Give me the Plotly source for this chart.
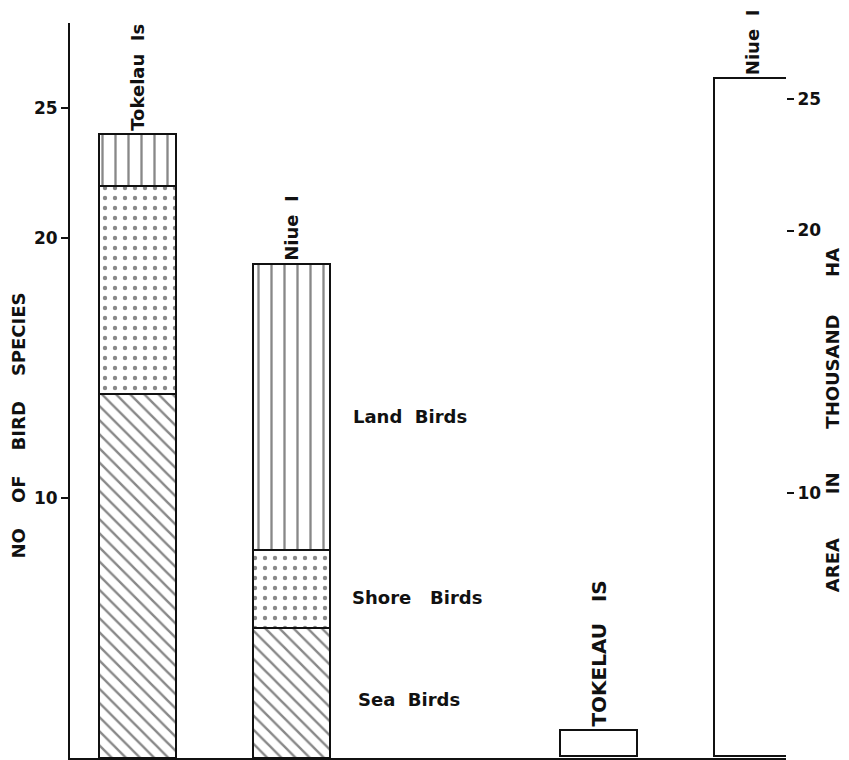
import plotly.graph_objects as go

# ---- data ----
slots = ["birds-Tokelau", "birds-Niue", "gap", "area-Tokelau", "area-Niue"]
bird_slots = ["birds-Tokelau", "birds-Niue"]
bird_islands = ["Tokelau\u00a0\u00a0Is", "Niue\u00a0\u00a0I"]
sea_birds = [14, 5]
shore_birds = [8, 3]
land_birds = [2, 11]
area_slots = ["area-Tokelau", "area-Niue"]
area_islands = ["TOKELAU\u00a0\u00a0\u00a0IS", "Niue\u00a0\u00a0I"]
area_thousand_ha = [1.0, 25.8]
left_ticks = [10, 20, 25]
right_ticks = [10, 20, 25]

FONT = "DejaVu Sans"
BLACK = "#111111"
bar_line = dict(color=BLACK, width=2)
label_font = dict(family=FONT, size=18, color=BLACK, weight="bold")

fig = go.Figure()
fig.add_trace(go.Bar(
    x=bird_slots, y=sea_birds, name="Sea Birds", width=0.5,
    marker=dict(color="white", line=bar_line,
                pattern=dict(shape="\\", size=10, solidity=0.24,
                             fgcolor=BLACK, bgcolor="white", fillmode="overlay")),
))
fig.add_trace(go.Bar(
    x=bird_slots, y=shore_birds, name="Shore Birds", width=0.5,
    marker=dict(color="white", line=bar_line,
                pattern=dict(shape=".", size=10, solidity=0.15,
                             fgcolor=BLACK, bgcolor="white", fillmode="overlay")),
))
fig.add_trace(go.Bar(
    x=bird_slots, y=land_birds, name="Land Birds", width=0.5,
    marker=dict(color="white", line=bar_line,
                pattern=dict(shape="|", size=13, solidity=0.18,
                             fgcolor=BLACK, bgcolor="white", fillmode="overlay")),
    text=bird_islands, textposition="outside", textangle=-90,
    constraintext="none", cliponaxis=False, textfont=label_font,
))
fig.add_trace(go.Bar(
    x=area_slots, y=area_thousand_ha, name="Area", width=0.5, yaxis="y2",
    marker=dict(color="white", line=bar_line),
    text=area_islands, textposition="outside", textangle=-90,
    constraintext="none", cliponaxis=False,
    textfont=dict(family=FONT, size=[20, 18], color=BLACK, weight="bold"),
))

tickfont = dict(family=FONT, size=17, color=BLACK, weight="bold")
# the page body has an 8px default margin, so the figure is 8px smaller
fig.update_layout(
    width=841, height=752,
    margin=dict(l=62, r=63, t=15, b=2),
    paper_bgcolor="white", plot_bgcolor="white",
    barmode="stack", showlegend=False,
    xaxis=dict(type="category", categoryorder="array", categoryarray=slots,
               range=[-0.44, 4.22], showticklabels=False, ticks="",
               showline=True, linecolor=BLACK, linewidth=2, showgrid=False,
               zeroline=False),
    yaxis=dict(range=[0, 28.26], tickvals=left_ticks, ticks="outside",
               ticklen=7, tickwidth=2, tickcolor=BLACK, showline=True,
               linecolor=BLACK, linewidth=2, showgrid=False, zeroline=False,
               tickfont=tickfont),
    yaxis2=dict(range=[-0.08, 27.9], tickvals=right_ticks, ticks="outside",
                ticklen=7, tickwidth=2, tickcolor=BLACK, showline=False,
                overlaying="y", side="right", showgrid=False, zeroline=False,
                tickfont=tickfont),
)

def gap(n):
    return "\u00a0" * n

fig.add_annotation(text="NO" + gap(4) + "OF" + gap(4) + "BIRD" + gap(4) + "SPECIES",
                   xref="paper", yref="paper", x=-0.072, y=0.453,
                   xanchor="center", yanchor="middle",
                   textangle=-90, showarrow=False, font=label_font)
fig.add_annotation(text="AREA" + gap(7) + "IN" + gap(7) + "THOUSAND" + gap(6) + "HA",
                   xref="paper", yref="paper", x=1.066, y=0.46,
                   xanchor="center", yanchor="middle",
                   textangle=-90, showarrow=False, font=label_font)
fig.add_annotation(text="Land" + gap(2) + "Birds", xref="paper", yref="paper",
                   x=0.475, y=0.465, xanchor="center", yanchor="middle",
                   showarrow=False, font=label_font)
fig.add_annotation(text="Shore" + gap(3) + "Birds", xref="paper", yref="paper",
                   x=0.485, y=0.219, xanchor="center", yanchor="middle",
                   showarrow=False, font=label_font)
fig.add_annotation(text="Sea" + gap(2) + "Birds", xref="paper", yref="paper",
                   x=0.474, y=0.080, xanchor="center", yanchor="middle",
                   showarrow=False, font=label_font)

fig.write_html("out.html")
